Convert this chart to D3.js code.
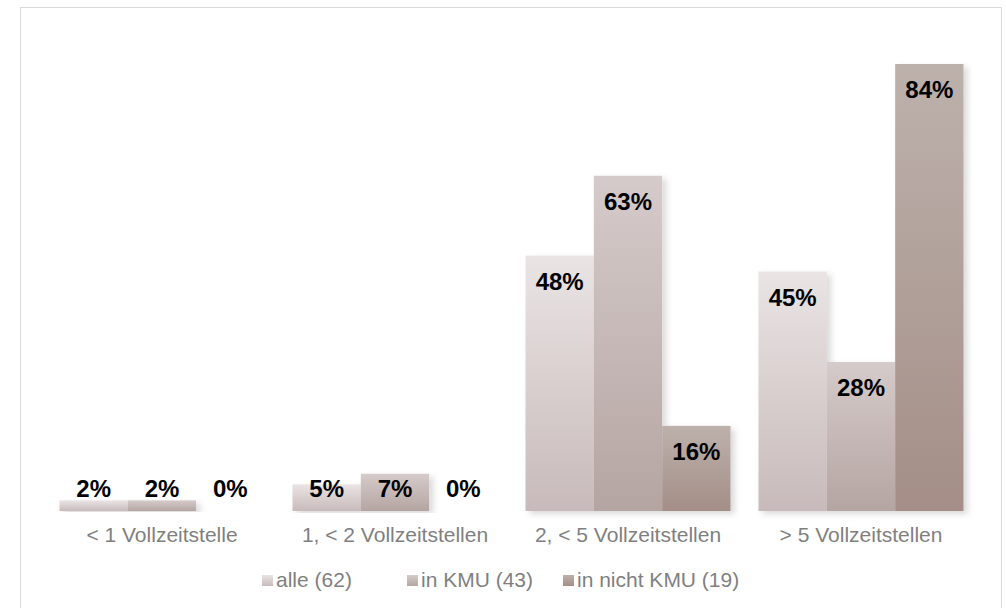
<!DOCTYPE html>
<html>
<head>
<meta charset="utf-8">
<script src="https://cdn.jsdelivr.net/npm/d3@7"></script>
<style>
  body { margin: 0; background: #fff; }
  svg { font-family: Arial, "Liberation Sans", sans-serif; }
</style>
</head>
<body>
<svg id="chart" width="1006" height="608"></svg>
<script>
var categories = ["< 1 Vollzeitstelle", "1, < 2 Vollzeitstellen", "2, < 5 Vollzeitstellen", "> 5 Vollzeitstellen"];
var seriesNames = ["alle (62)", "in KMU (43)", "in nicht KMU (19)"];
var alle = [2, 5, 48, 45];
var kmu = [2, 7, 63, 28];
var nichtKmu = [0, 0, 16, 84];
var seriesValues = [alle, kmu, nichtKmu];

var gradTop = ["#eae4e4", "#d5cbca", "#bdb1ac"];
var gradBottom = ["#c8baba", "#b5a5a2", "#a48e87"];

var svg = d3.select("#chart");

// outer frame
svg.append("rect")
    .attr("x", 20.5).attr("y", 7.5)
    .attr("width", 981).attr("height", 605)
    .attr("fill", "#fff")
    .attr("stroke", "#d9d9d9");

var defs = svg.append("defs");
seriesNames.forEach(function(s, i) {
    var lg = defs.append("linearGradient")
        .attr("id", "grad" + i)
        .attr("x1", 0).attr("y1", 0).attr("x2", 0).attr("y2", 1);
    lg.append("stop").attr("offset", "0%").attr("stop-color", gradTop[i]);
    lg.append("stop").attr("offset", "100%").attr("stop-color", gradBottom[i]);
});
var f = defs.append("filter").attr("id", "shadow")
    .attr("x", "-20%").attr("y", "-5%").attr("width", "140%").attr("height", "110%");
f.append("feDropShadow").attr("dx", 4).attr("dy", 3).attr("stdDeviation", 3)
    .attr("flood-color", "#000").attr("flood-opacity", 0.15);

var x0 = d3.scaleBand()
    .domain(categories)
    .range([45.5, 977.5])
    .paddingInner(0)
    .paddingOuter(0);

var x1 = d3.scaleBand()
    .domain(d3.range(seriesNames.length))
    .range([14, x0.bandwidth() - 14]);

var y = d3.scaleLinear()
    .domain([0, 84])
    .range([511, 64]);

var rows = [];
categories.forEach(function(c, ci) {
    seriesValues.forEach(function(vals, si) {
        rows.push({cat: c, s: si, v: vals[ci]});
    });
});

var groups = svg.append("g").selectAll("g")
    .data(categories)
    .enter().append("g")
    .attr("transform", function(d) { return "translate(" + x0(d) + ",0)"; })
    .attr("filter", "url(#shadow)");

groups.selectAll("rect")
    .data(function(d) { return rows.filter(function(r) { return r.cat === d; }); })
    .enter().append("rect")
    .attr("x", function(d) { return x1(d.s); })
    .attr("y", function(d) { return y(d.v); })
    .attr("width", x1.bandwidth())
    .attr("height", function(d) { return y(0) - y(d.v); })
    .attr("fill", function(d) { return "url(#grad" + d.s + ")"; });

// value labels
svg.append("g").selectAll("text")
    .data(rows)
    .enter().append("text")
    .attr("x", function(d) { return x0(d.cat) + x1(d.s) + x1.bandwidth() / 2; })
    .attr("y", function(d) { return Math.min(y(d.v) + 34, 497); })
    .attr("text-anchor", "middle")
    .attr("font-size", "24px")
    .attr("font-weight", "bold")
    .attr("fill", "#000")
    .text(function(d) { return d.v + "%"; });

// category axis labels
var xAxis = d3.axisBottom(x0).tickSize(0).tickPadding(0);
var ax = svg.append("g")
    .attr("transform", "translate(0,527)")
    .call(xAxis);
ax.select(".domain").remove();
ax.selectAll("text")
    .attr("font-family", "Arial, 'Liberation Sans', sans-serif")
    .attr("font-size", "21px")
    .attr("fill", "#7f7f7f");

// legend
var legendX = [262, 407, 563];
var legend = svg.append("g").selectAll("g")
    .data(seriesNames)
    .enter().append("g")
    .attr("transform", function(d, i) { return "translate(" + legendX[i] + ",580)"; });
legend.append("rect")
    .attr("x", 0).attr("y", -5)
    .attr("width", 11).attr("height", 11)
    .attr("fill", function(d, i) { return "url(#grad" + i + ")"; });
legend.append("text")
    .attr("x", 14).attr("y", 7)
    .attr("font-size", "21px")
    .attr("fill", "#7f7f7f")
    .text(function(d) { return d; });
</script>
</body>
</html>
